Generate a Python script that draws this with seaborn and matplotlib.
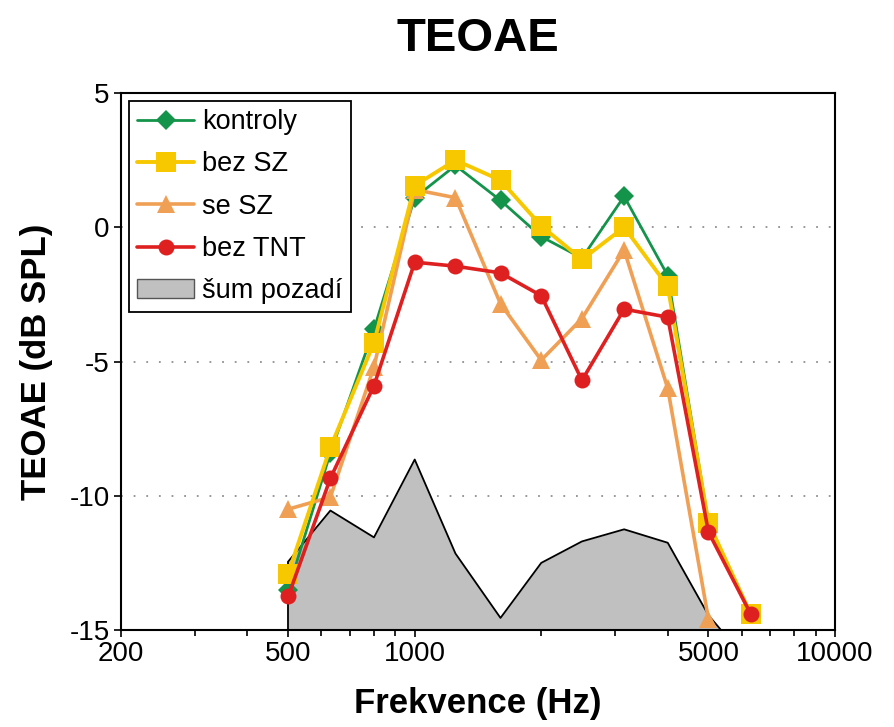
import numpy as np
import pandas as pd
import matplotlib
matplotlib.use("Agg")
import matplotlib.pyplot as plt
import seaborn as sns
from matplotlib.lines import Line2D
from matplotlib.patches import Patch
from matplotlib.ticker import FixedLocator, NullFormatter

# Frequencies (Hz) of the TEOAE bands
freq = [500, 630, 800, 1000, 1250, 1600, 2000, 2500, 3150, 4000, 5000, 6300]

# Mean TEOAE levels (dB SPL) per group
kontroly = [-13.5, -8.4, -3.8, 1.1, 2.3, 1.0, -0.35, -1.15, 1.15, -1.8, -11.0, -14.4]
bez_sz = [-12.9, -8.2, -4.3, 1.55, 2.5, 1.75, 0.05, -1.2, 0.0, -2.2, -11.0, -14.4]
se_sz = [-10.5, -10.05, -5.2, 1.4, 1.1, -2.85, -4.95, -3.4, -0.85, -6.0, -14.6, np.nan]
bez_tnt = [-13.75, -9.35, -5.9, -1.3, -1.45, -1.7, -2.55, -5.7, -3.05, -3.35, -11.35, -14.4]
# Background noise floor
sum_pozadi = [-12.45, -10.55, -11.55, -8.65, -12.15, -14.55, -12.5, -11.7, -11.25, -11.75, -14.45, -16.3]

labels = ["kontroly", "bez SZ", "se SZ", "bez TNT", "šum pozadí"]
x_ticks = [200, 500, 1000, 5000, 10000]
x_ticklabels = ["200", "500", "1000", "5000", "10000"]
y_ticks = [5, 0, -5, -10, -15]

sns.set_theme(style="white")
plt.rcParams["font.family"] = ["Liberation Sans", "DejaVu Sans"]
plt.rcParams["text.color"] = "black"
plt.rcParams["axes.labelcolor"] = "black"
plt.rcParams["xtick.color"] = "black"
plt.rcParams["ytick.color"] = "black"

fig = plt.figure(figsize=(8.94, 7.27), dpi=100)
ax = fig.add_axes([0.1353, 0.1334, 0.7987, 0.7387])

green = "#13944a"
yellow = "#f7c800"
orange = "#f0a055"
red = "#df2020"
grey = "#c0c0c0"

# noise floor as a filled area
ax.fill_between(freq, sum_pozadi, -15, color=grey, zorder=1, linewidth=0)
ax.plot(freq, sum_pozadi, color="black", lw=1.3, zorder=1.5)
ax.plot([freq[0], freq[0]], [-15, sum_pozadi[0]], color="black", lw=1.3, zorder=1.5)

series = [
    (kontroly, green, "D", 10, 2.0, 3),
    (se_sz, orange, "^", 12.5, 2.6, 4),
    (bez_sz, yellow, "s", 14, 2.8, 5),
    (bez_tnt, red, "o", 11.5, 2.6, 6),
]
for vals, col, mk, ms, lw, z in series:
    df = pd.DataFrame({"f": freq, "v": vals}).dropna()
    sns.lineplot(data=df, x="f", y="v", ax=ax, color=col, marker=mk,
                 markersize=ms, markeredgewidth=0, linewidth=lw, zorder=z,
                 legend=False)

ax.set_xscale("log")
ax.set_xlim(200, 10000)
ax.set_ylim(-15, 5)

ax.xaxis.set_major_locator(FixedLocator(x_ticks))
ax.set_xticklabels(x_ticklabels)
minors = [300, 400, 600, 700, 800, 900, 2000, 3000, 4000, 6000, 7000, 8000, 9000]
ax.xaxis.set_minor_locator(FixedLocator(minors))
ax.xaxis.set_minor_formatter(NullFormatter())
ax.set_yticks(y_ticks)
ax.set_yticklabels([str(t) for t in y_ticks])

ax.tick_params(axis="both", which="major", direction="out", length=5,
               width=1.2, color="black", labelcolor="black", labelsize=20,
               pad=3, bottom=True, left=True)
ax.tick_params(axis="x", which="minor", direction="out", length=4,
               width=1.2, color="black", bottom=True)

for s in ax.spines.values():
    s.set_color("black")
    s.set_linewidth(1.5)
    s.set_zorder(10)

for yv in [0, -5, -10]:
    ax.axhline(yv, color="#909090", lw=1.3, ls=(0, (1, 6)), zorder=0.5)

ax.set_xlabel("Frekvence (Hz)", fontsize=25, fontweight="bold", labelpad=14,
              color="black")
ax.set_ylabel("TEOAE (dB SPL)", fontsize=25, fontweight="bold", labelpad=12,
              color="black")
ax.set_title("TEOAE", fontsize=34, fontweight="bold", pad=30, color="black")

handles = [
    Line2D([], [], color=green, marker="D", markersize=10, lw=2.0, markeredgewidth=0),
    Line2D([], [], color=yellow, marker="s", markersize=14, lw=2.8, markeredgewidth=0),
    Line2D([], [], color=orange, marker="^", markersize=12.5, lw=2.6, markeredgewidth=0),
    Line2D([], [], color=red, marker="o", markersize=11.5, lw=2.6, markeredgewidth=0),
    Patch(facecolor=grey, edgecolor="#555555", linewidth=1.0),
]
leg = ax.legend(handles, labels, loc="upper left", fontsize=19.5,
                frameon=True, fancybox=False, framealpha=1, edgecolor="black",
                borderaxespad=0.3, handlelength=2.1, handletextpad=0.3,
                labelspacing=0.6, borderpad=0.3)
leg.get_frame().set_linewidth(1.3)
leg.set_zorder(20)
for t in leg.get_texts():
    t.set_color("black")

fig.savefig("out.png", dpi=100)
